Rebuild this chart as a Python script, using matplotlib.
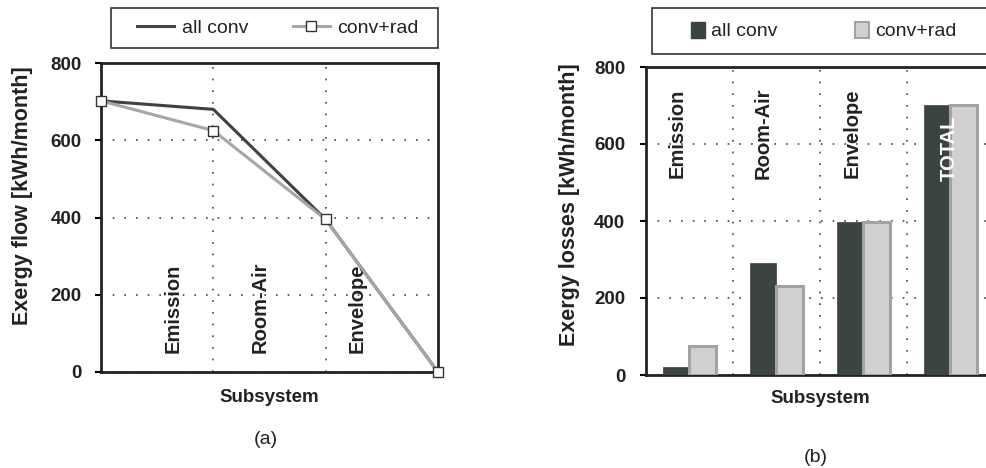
import matplotlib
matplotlib.use("Agg")
import matplotlib.pyplot as plt
from matplotlib.lines import Line2D
from matplotlib.patches import Patch, Rectangle

plt.rcParams['font.family'] = ['Liberation Sans', 'DejaVu Sans']

# ---- data ----
flow_x = [0, 1, 2, 3]
flow_all_conv = [702, 680, 395, 0]
flow_conv_rad = [702, 625, 395, 0]
flow_labels = ["Emission", "Room-Air", "Envelope"]

loss_categories = ["Emission", "Room-Air", "Envelope", "TOTAL"]
loss_all_conv = [20, 290, 398, 702]
loss_conv_rad = [75, 230, 397, 702]

yticks = [0, 200, 400, 600, 800]

DARK = "#3b4442"
LIGHT_LINE = "#a6a6a6"
LIGHT_FILL = "#d0d0d0"
LIGHT_EDGE = "#a3a3a3"
TXT = "#222222"

W, H = 987, 468
fig = plt.figure(figsize=(W / 100, H / 100), dpi=100)

def ax_rect(x0, x1, y0, y1):
    return [x0 / W, 1 - y1 / H, (x1 - x0) / W, (y1 - y0) / H]

def fx(x):
    return x / W

def fy(y):
    return 1 - y / H

tickfont = dict(fontsize=13.5, fontweight='bold', color=TXT)
GRID = dict(color='#444444', linestyle=(0, (1, 6)), lw=1.2)
LEGFS = 14

# ---------- left panel ----------
ax1 = fig.add_axes(ax_rect(101, 438, 63, 372))
ax1.plot(flow_x, flow_all_conv, color=DARK, lw=2.2, zorder=3, clip_on=False)
ax1.plot(flow_x, flow_conv_rad, color=LIGHT_LINE, lw=2.2, zorder=4,
         marker='s', ms=6.5, mfc='white', mec='#333333', mew=1.0, clip_on=False)
ax1.set_xlim(0, 3)
ax1.set_ylim(0, 800)
ax1.set_yticks(yticks)
ax1.set_yticklabels([str(v) for v in yticks], **tickfont)
ax1.set_xticks([1, 2])
ax1.tick_params(axis='x', length=0, labelbottom=False)
ax1.tick_params(axis='y', length=4, width=1.5, direction='out', pad=10)
ax1.grid(True, which='major', **GRID)
for s in ax1.spines.values():
    s.set_linewidth(2.0)
    s.set_color(TXT)
ax1.set_ylabel("Exergy flow [kWh/month]", fontsize=15.5, fontweight='bold',
               color=TXT)
ax1.yaxis.set_label_coords(-0.202, 0.571)
ax1.set_xlabel("Subsystem", fontsize=13.5, fontweight='bold', color=TXT,
               labelpad=12)
for xpos, lab in zip([0.64, 1.42, 2.28], flow_labels):
    ax1.text(xpos, 50, lab, rotation=90, ha='center', va='bottom',
             fontsize=14.5, fontweight='bold', color=TXT)
fig.text(fx(266), fy(440), "(a)", ha='center', va='center', fontsize=14,
         color=TXT)

fig.patches.append(Rectangle((fx(111), fy(48)), fx(438) - fx(111),
                             fy(8) - fy(48), transform=fig.transFigure,
                             facecolor='white', edgecolor='#333333', lw=1.2))
h1 = [Line2D([], [], color=DARK, lw=2.2),
      Line2D([], [], color=LIGHT_LINE, lw=2.2, marker='s', ms=6.5,
             mfc='white', mec='#333333', mew=1.0)]
leg1 = fig.legend(h1, ["all conv", "conv+rad"], loc='center left',
                  bbox_to_anchor=(fx(137), fy(28)), ncol=2,
                  fontsize=LEGFS, frameon=False, handlelength=1.9,
                  columnspacing=2.3, borderpad=0, borderaxespad=0,
                  handletextpad=0.4)
for t in leg1.get_texts():
    t.set_color(TXT)

# ---------- right panel ----------
ncat = len(loss_categories)
ax2 = fig.add_axes(ax_rect(646, 646 + 87 * ncat, 67, 375))
idx = list(range(ncat))
bw = 0.3
ax2.bar([i - bw / 2 for i in idx], loss_all_conv, width=bw, color=DARK,
        edgecolor=DARK, lw=0.5, zorder=3)
ax2.bar([i + bw / 2 for i in idx], loss_conv_rad, width=bw, color=LIGHT_FILL,
        edgecolor=LIGHT_EDGE, lw=2.2, zorder=3)
ax2.set_xlim(-0.5, ncat - 0.5)
ax2.set_ylim(0, 800)
ax2.set_yticks(yticks)
ax2.set_yticklabels([str(v) for v in yticks], **tickfont)
ax2.set_xticks([0.5, 1.5, 2.5])
ax2.tick_params(axis='x', length=0, labelbottom=False)
ax2.tick_params(axis='y', length=4, width=1.5, direction='out', pad=11)
ax2.grid(True, which='major', **GRID)
for s in ax2.spines.values():
    s.set_linewidth(2.0)
    s.set_color(TXT)
ax2.set_ylabel("Exergy losses [kWh/month]", fontsize=15.5, fontweight='bold',
               color=TXT)
ax2.yaxis.set_label_coords(-66 / (87 * ncat), 0.552)
ax2.set_xlabel("Subsystem", fontsize=13.5, fontweight='bold', color=TXT,
               labelpad=11)
label_x = [-0.14, 0.845, 1.87, 2.98]
label_y = [628, 628, 628, 590]
for i, lab in enumerate(loss_categories):
    col = 'white' if lab == "TOTAL" else TXT
    ax2.text(label_x[i], label_y[i], lab, rotation=90, ha='center',
             va='center', fontsize=14.5, fontweight='bold', color=col, zorder=5)
fig.text(fx(816), fy(458), "(b)", ha='center', va='center', fontsize=14,
         color=TXT)

fig.patches.append(Rectangle((fx(652), fy(54)), fx(1000) - fx(652),
                             fy(8) - fy(54), transform=fig.transFigure,
                             facecolor='white', edgecolor='#333333', lw=1.2))
h2 = [Patch(facecolor=DARK, edgecolor=DARK),
      Patch(facecolor=LIGHT_FILL, edgecolor=LIGHT_EDGE, lw=1.5)]
leg2 = fig.legend(h2, ["all conv", "conv+rad"], loc='center left',
                  bbox_to_anchor=(fx(691), fy(31)), ncol=2,
                  fontsize=LEGFS, frameon=False, handlelength=0.72,
                  handleheight=0.9, columnspacing=4.0, borderpad=0,
                  borderaxespad=0, handletextpad=0.3)
for t in leg2.get_texts():
    t.set_color(TXT)

fig.savefig("out.png", dpi=100)
